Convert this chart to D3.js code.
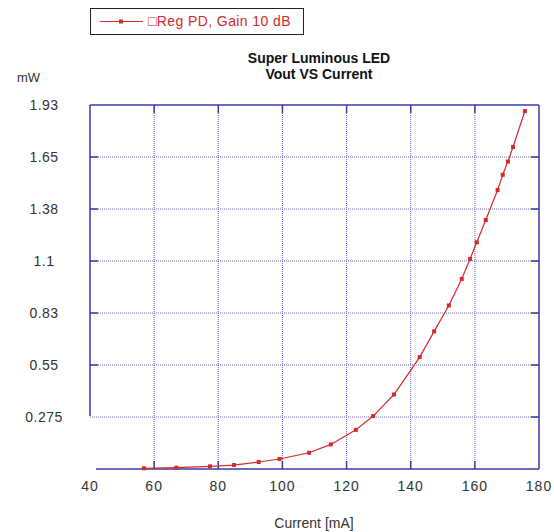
<!DOCTYPE html>
<html>
<head>
<meta charset="utf-8">
<script src="https://cdn.jsdelivr.net/npm/d3@7"></script>
<style>
  body { margin: 0; background: #fff; }
  text { font-family: "Liberation Sans", Arial, sans-serif; }
</style>
</head>
<body>
<script>
// Data
const current = [56.8, 66.9, 77.4, 84.9, 92.6, 99.1, 108.3, 115.1, 122.9, 128.3, 134.8,
  142.8, 147.3, 151.9, 155.9, 158.5, 160.6, 163.4, 167.1, 168.7, 170.3, 171.9, 175.6];
const vout = [0.004, 0.007, 0.014, 0.021, 0.037, 0.053, 0.086, 0.130, 0.207, 0.280, 0.394,
  0.592, 0.728, 0.865, 1.005, 1.111, 1.199, 1.317, 1.475, 1.556, 1.626, 1.703, 1.893];
const xTicks = [40, 60, 80, 100, 120, 140, 160, 180];
const yTicks = [0.275, 0.55, 0.825, 1.1, 1.375, 1.65, 1.925];
const yTickLabels = ['0.275', '0.55', '0.83', '1.1', '1.38', '1.65', '1.93'];
const seriesName = '\u25A1Reg PD, Gain 10 dB';
const titleLines = ['Super Luminous LED', 'Vout VS Current'];

const WIDTH = 554, HEIGHT = 532;
const MARGIN = {top: 105, right: 15, bottom: 63, left: 90};
const AXIS = '#3a3aa8', GRID = '#6a6ac0', RED = '#d42a2a';

const svg = d3.select('body').append('svg')
  .attr('width', WIDTH).attr('height', HEIGHT);

const x = d3.scaleLinear().domain([40, 180]).range([MARGIN.left, WIDTH - MARGIN.right]);
const y = d3.scaleLinear().domain([0, 1.925]).range([HEIGHT - MARGIN.bottom, MARGIN.top]);

// Grid lines (dotted)
svg.append('g').selectAll('line')
  .data(xTicks.filter(d => d > 40 && d < 180))
  .enter().append('line')
  .attr('x1', d => x(d)).attr('x2', d => x(d))
  .attr('y1', y(1.925)).attr('y2', y(0))
  .attr('stroke', GRID).attr('stroke-width', 1).attr('stroke-dasharray', '1,1');

svg.append('g').selectAll('line')
  .data(yTicks.filter(d => d < 1.925))
  .enter().append('line')
  .attr('x1', x(40)).attr('x2', x(180))
  .attr('y1', d => y(d)).attr('y2', d => y(d))
  .attr('stroke', GRID).attr('stroke-width', 1).attr('stroke-dasharray', '1,1');

// Frame
const frame = svg.append('g').attr('stroke', AXIS).attr('stroke-width', 1.5).attr('fill', 'none');
frame.append('line').attr('x1', x(40)).attr('x2', x(180)).attr('y1', y(1.925)).attr('y2', y(1.925));
frame.append('line').attr('x1', x(180)).attr('x2', x(180)).attr('y1', y(1.925)).attr('y2', y(0));
frame.append('line').attr('x1', x(40) + 6).attr('x2', x(180)).attr('y1', y(0)).attr('y2', y(0));
frame.append('line').attr('x1', x(40)).attr('x2', x(40)).attr('y1', y(1.925)).attr('y2', y(0.275) - 1);

// Inward tick marks on all four sides
const inner = xTicks.filter(d => d > 40 && d < 180);
inner.forEach(d => {
  frame.append('line').attr('x1', x(d)).attr('x2', x(d)).attr('y1', y(0)).attr('y2', y(0) - 8);
  frame.append('line').attr('x1', x(d)).attr('x2', x(d)).attr('y1', y(1.925)).attr('y2', y(1.925) + 8);
});
yTicks.filter(d => d < 1.925).forEach(d => {
  if (d > 0.275) frame.append('line').attr('x1', x(40)).attr('x2', x(40) + 8).attr('y1', y(d)).attr('y2', y(d));
  frame.append('line').attr('x1', x(180)).attr('x2', x(180) - 8).attr('y1', y(d)).attr('y2', y(d));
});

// Tick labels
svg.append('g').selectAll('text')
  .data(xTicks).enter().append('text')
  .attr('x', d => x(d)).attr('y', y(0) + 22)
  .attr('text-anchor', 'middle').attr('font-size', 14).attr('letter-spacing', 1).attr('fill', '#333')
  .text(d => d);

svg.append('g').selectAll('text')
  .data(yTicks).enter().append('text')
  .attr('x', 44).attr('y', d => y(d) + 5)
  .attr('text-anchor', 'middle').attr('font-size', 14).attr('letter-spacing', 0.5).attr('fill', '#333')
  .text((d, i) => yTickLabels[i]);

// Axis titles
svg.append('text').attr('x', 17).attr('y', 82).attr('font-size', 13).attr('fill', '#333').text('mW');
svg.append('text').attr('x', 314).attr('y', 528).attr('text-anchor', 'middle')
  .attr('font-size', 14).attr('fill', '#333').text('Current [mA]');

// Chart title
svg.append('g').selectAll('text')
  .data(titleLines).enter().append('text')
  .attr('x', 319).attr('y', (d, i) => 63 + i * 16)
  .attr('text-anchor', 'middle').attr('font-size', 14).attr('font-weight', 'bold')
  .attr('fill', '#111').text(d => d);

// Series line and markers
const pts = current.map((c, i) => ({c: c, v: vout[i]}));
const line = d3.line().x(d => x(d.c)).y(d => y(d.v));
svg.append('path').datum(pts)
  .attr('d', line).attr('fill', 'none').attr('stroke', RED).attr('stroke-width', 1.2);
svg.append('g').selectAll('rect')
  .data(pts).enter().append('rect')
  .attr('x', d => x(d.c) - 2).attr('y', d => y(d.v) - 2)
  .attr('width', 4).attr('height', 4).attr('fill', RED);

// Legend
const legend = svg.append('g');
legend.append('rect').attr('x', 90.5).attr('y', 8.5).attr('width', 213).attr('height', 26)
  .attr('fill', '#fff').attr('stroke', '#222').attr('stroke-width', 1);
legend.append('line').attr('x1', 100).attr('x2', 143).attr('y1', 21.5).attr('y2', 21.5)
  .attr('stroke', RED).attr('stroke-width', 1.2);
legend.append('rect').attr('x', 119).attr('y', 19.5).attr('width', 4).attr('height', 4).attr('fill', RED);
legend.append('text').attr('x', 148).attr('y', 26).attr('font-size', 14).attr('letter-spacing', 0.4)
  .attr('fill', RED).text(seriesName);
</script>
</body>
</html>
